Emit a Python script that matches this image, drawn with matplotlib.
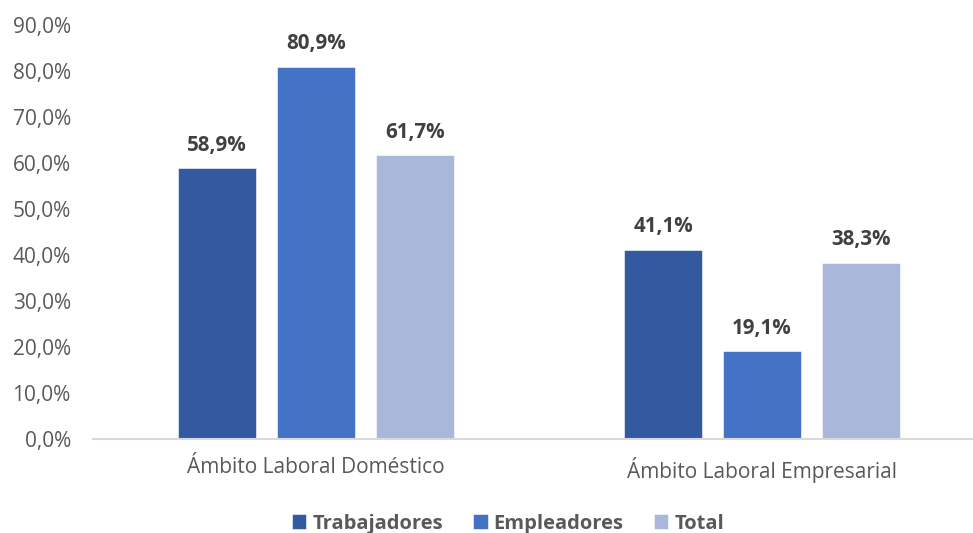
import matplotlib
matplotlib.use('Agg')
import matplotlib.pyplot as plt
import numpy as np

# Data
categories = ['Ámbito Laboral Doméstico', 'Ámbito Laboral Empresarial']
series = ['Trabajadores', 'Empleadores', 'Total']
trabajadores = [58.9, 41.1]
empleadores = [80.9, 19.1]
total = [61.7, 38.3]

colors = ['#335AA1', '#4472C4', '#A9B7DB']
plt.rcParams['font.family'] = ['Open Sans', 'DejaVu Sans']

fig = plt.figure(figsize=(9.73, 5.33), dpi=100)
ax = fig.add_axes([93 / 973, 94 / 533, 880 / 973, 414 / 533])

x = np.arange(len(categories))
width = 0.173
step = 0.222

for i, (name, vals) in enumerate(zip(series, [trabajadores, empleadores, total])):
    bars = ax.bar(x + (i - 1) * step, vals, width, color=colors[i], label=name,
                  edgecolor='white', linewidth=0.4)
    for bar, v in zip(bars, vals):
        ax.annotate(f'{v:.1f}%'.replace('.', ','),
                    (bar.get_x() + bar.get_width() / 2, v),
                    xytext=(0, 9), textcoords='offset points',
                    ha='center', va='bottom', fontsize=14.8, fontweight='bold',
                    color='#404040')

ax.set_xlim(-0.5, 1.473)
ax.set_ylim(0, 90)
ax.set_yticks(np.arange(0, 91, 10))
ax.set_yticklabels([f'{v:.1f}%'.replace('.', ',') for v in np.arange(0, 91, 10)])
ax.set_xticks(x)
ax.set_xticklabels(categories)
ax.tick_params(axis='both', length=0, labelsize=15, colors='#595959')
ax.tick_params(axis='x', pad=13)
ax.tick_params(axis='y', pad=16)

for side in ['top', 'right', 'left']:
    ax.spines[side].set_visible(False)
ax.spines['bottom'].set_color('#D9D9D9')
ax.spines['bottom'].set_linewidth(1.5)

leg = fig.legend(loc='lower center', bbox_to_anchor=(0.522, -0.035), ncol=3,
                 frameon=False, handlelength=0.72, handleheight=0.72,
                 handletextpad=0.3, columnspacing=1.5,
                 prop={'size': 14.5, 'weight': 'bold'})
for t in leg.get_texts():
    t.set_color('#595959')

fig.savefig('out.png', dpi=100, facecolor='white')
